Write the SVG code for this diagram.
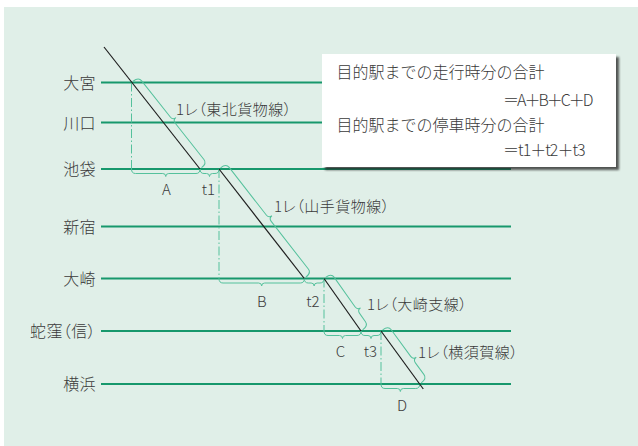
<svg xmlns="http://www.w3.org/2000/svg" width="638" height="446" viewBox="0 0 638 446">
<defs>
<style>
text{font-family:"Noto Sans CJK JP","Noto Sans",sans-serif;fill:#3a3a3a;font-weight:300}
.st{font-size:16px;text-anchor:end;font-feature-settings:"palt";letter-spacing:0.4px}
.rail{stroke:#17986c;stroke-width:2.2;fill:none}
.train{stroke:#1e1e1e;stroke-width:1.2;fill:none}
.brace{stroke:#55c19c;stroke-width:1;fill:none}
.guide{stroke:#55c19c;stroke-width:1;stroke-dasharray:9 2.5 1.5 2.5;fill:none}
.lbl{font-size:15px;font-feature-settings:"palt";letter-spacing:0.5px}
.tm{font-size:15px;text-anchor:middle}
.box{font-size:16px}
.eq{font-size:16px;letter-spacing:-1px}
.eq2{font-size:16px;letter-spacing:-2px}
</style>
<filter id="sh" x="-5%" y="-10%" width="115%" height="130%">
<feDropShadow dx="3" dy="3" stdDeviation="1.2" flood-color="#222" flood-opacity="0.75"/>
</filter>
</defs>
<rect width="638" height="446" fill="#fff"/>
<rect x="4" y="7" width="634" height="439" fill="#e0efe8"/>

<g id="stations">
<g id="st-omiya"><text class="st" x="96" y="88.5">大宮</text><line class="rail" x1="101" y1="82.5" x2="511" y2="82.5"/></g>
<g id="st-kawaguchi"><text class="st" x="96" y="128.5">川口</text><line class="rail" x1="101" y1="122.5" x2="511" y2="122.5"/></g>
<g id="st-ikebukuro"><text class="st" x="96" y="175">池袋</text><line class="rail" x1="101" y1="169" x2="511" y2="169"/></g>
<g id="st-shinjuku"><text class="st" x="96" y="232.5">新宿</text><line class="rail" x1="101" y1="226.5" x2="511" y2="226.5"/></g>
<g id="st-osaki"><text class="st" x="96" y="284.5">大崎</text><line class="rail" x1="101" y1="278.5" x2="511" y2="278.5"/></g>
<g id="st-hebikubo"><text class="st" x="96" y="337">蛇窪（信）</text><line class="rail" x1="101" y1="331" x2="511" y2="331"/></g>
<g id="st-yokohama"><text class="st" x="96" y="390">横浜</text><line class="rail" x1="101" y1="384" x2="511" y2="384"/></g>
</g>

<g id="summary">
<rect x="322" y="54" width="294" height="113" fill="#fff" filter="url(#sh)"/>
<text class="box" x="336.5" y="77.5">目的駅までの走行時分の合計</text>
<text class="eq2" x="503" y="105.5">＝A＋B＋C＋D</text>
<text class="box" x="336.5" y="131">目的駅までの停車時分の合計</text>
<text class="eq" x="503" y="155.5">＝t1＋t2＋t3</text>
</g>

<g id="connectors">
<g id="guides">
<line class="guide" x1="131.5" y1="82.5" x2="131.5" y2="169"/>
<line class="guide" x1="219" y1="169" x2="219" y2="278.5"/>
<line class="guide" x1="324" y1="278.5" x2="324" y2="331"/>
<line class="guide" x1="381" y1="331" x2="381" y2="384"/>
</g>
<g id="hbraces" class="brace">
<path transform="translate(131.5,169)" d="M0,0 Q0,4.5 4,4.5 H31.25 Q34.25,4.5 34.25,7.5 Q34.25,4.5 37.25,4.5 H64.5 Q68.5,4.5 68.5,0"/>
<path transform="translate(200,169)" d="M0,0 Q0,4.5 4,4.5 H6.5 Q9.5,4.5 9.5,7.5 Q9.5,4.5 12.5,4.5 H15 Q19,4.5 19,0"/>
<path transform="translate(219,278.5)" d="M0,0 Q0,4.5 4,4.5 H39.65 Q42.65,4.5 42.65,7.5 Q42.65,4.5 45.65,4.5 H81.3 Q85.3,4.5 85.3,0"/>
<path transform="translate(304.3,278.5)" d="M0,0 Q0,4.5 4,4.5 H6.85 Q9.85,4.5 9.85,7.5 Q9.85,4.5 12.85,4.5 H15.7 Q19.7,4.5 19.7,0"/>
<path transform="translate(324,331)" d="M0,0 Q0,4.5 4,4.5 H15.5 Q18.5,4.5 18.5,7.5 Q18.5,4.5 21.5,4.5 H33 Q37,4.5 37,0"/>
<path transform="translate(361,331)" d="M0,0 Q0,4.5 4,4.5 H7 Q10,4.5 10,7.5 Q10,4.5 13,4.5 H16 Q20,4.5 20,0"/>
<path transform="translate(381,384)" d="M0,0 Q0,4.5 4,4.5 H16.35 Q19.35,4.5 19.35,7.5 Q19.35,4.5 22.35,4.5 H34.7 Q38.7,4.5 38.7,0"/>
</g>
<g id="dbraces" class="brace">
<path transform="translate(131.5,82.5) rotate(51.62)" d="M0,-2 Q0,-9 5,-9 H51.15 Q55.15,-9 55.15,-13 Q55.15,-9 59.15,-9 H105.3 Q110.3,-9 110.3,-2"/>
<path transform="translate(219,169) rotate(52.08)" d="M0,-2 Q0,-9 5,-9 H65.4 Q69.4,-9 69.4,-13 Q69.4,-9 73.4,-9 H133.8 Q138.8,-9 138.8,-2"/>
<path transform="translate(324,278.5) rotate(54.83)" d="M0,-2 Q0,-9 5,-9 H41 Q45,-9 45,-13 Q45,-9 49,-9 H59.2 Q64.2,-9 64.2,-2"/>
<path transform="translate(381,331) rotate(53.87)" d="M0,-2 Q0,-9 5,-9 H38 Q42,-9 42,-13 Q42,-9 46,-9 H60.6 Q65.6,-9 65.6,-2"/>
</g>
<g id="train">
<line class="train" x1="104" y1="47" x2="200" y2="169"/>
<line class="train" x1="219" y1="169" x2="304.3" y2="278.5"/>
<line class="train" x1="324" y1="278.5" x2="361" y2="331"/>
<line class="train" x1="381" y1="331" x2="423.3" y2="389"/>
</g>
</g>

<g id="labels">
<text class="lbl" x="176" y="114.5">1レ（東北貨物線）</text>
<text class="lbl" x="274" y="212">1レ（山手貨物線）</text>
<text class="lbl" x="367" y="309.5">1レ（大崎支線）</text>
<text class="lbl" x="418" y="358">1レ（横須賀線）</text>
<text class="tm" x="166.5" y="195">A</text>
<text class="tm" x="208.5" y="195">t1</text>
<text class="tm" x="261.7" y="306.5">B</text>
<text class="tm" x="313" y="306.5">t2</text>
<text class="tm" x="340.5" y="356.5">C</text>
<text class="tm" x="370.3" y="356.5">t3</text>
<text class="tm" x="402" y="410.5">D</text>
</g>
</svg>
